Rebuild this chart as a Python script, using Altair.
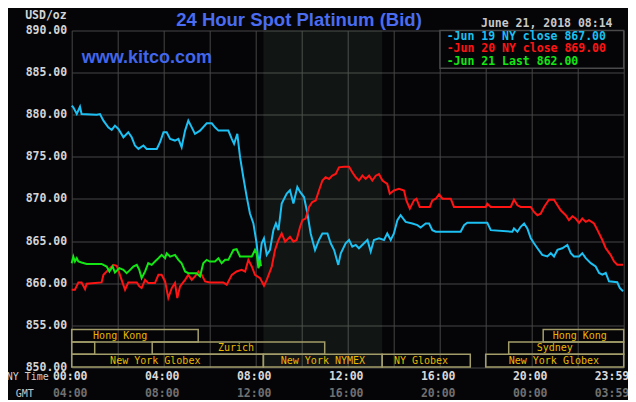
import altair as alt
import pandas as pd

# ---------------- data ----------------
jun19_hours = [0.00, 0.07, 0.22, 0.36, 0.43, 1.09, 1.23, 1.38, 1.59, 1.74, 1.88, 2.03, 2.25, 2.46, 2.61,
               2.75, 2.90, 3.12, 3.26, 3.70, 3.84, 3.99, 4.13, 4.28, 4.49, 4.64, 4.78, 4.93, 5.07, 5.22,
               5.36, 5.58, 5.87, 6.09, 6.23, 6.38, 6.81, 6.96, 7.06, 7.20, 7.32, 7.46, 7.61, 7.75, 7.90,
               8.04, 8.14, 8.26, 8.36, 8.48, 8.62, 8.77, 8.88, 8.99, 9.13, 9.35, 9.49, 9.64, 9.81, 9.93,
               10.10, 10.25, 10.39, 10.58, 10.75, 10.90, 11.12, 11.26, 11.41, 11.59, 11.70, 11.91, 12.06,
               12.20, 12.35, 12.49, 12.71, 12.86, 13.00, 13.14, 13.36, 13.58, 13.72, 13.87, 14.01, 14.16,
               14.30, 14.52, 14.81, 15.03, 15.17, 15.39, 15.54, 15.68, 15.83, 16.91, 17.06, 17.20, 18.07,
               18.22, 19.16, 19.23, 19.38, 19.52, 19.67, 19.81, 19.96, 20.10, 20.25, 20.46, 20.68, 20.83,
               20.97, 21.12, 21.33, 21.55, 21.70, 21.84, 22.06, 22.20, 22.35, 22.57, 22.78, 22.93, 23.07,
               23.22, 23.36, 23.72, 23.83, 23.97]
jun19_values = [881.06, 880.87, 880.08, 880.94, 880.08, 880.00, 880.08, 879.29, 878.50, 878.19, 878.70,
                878.31, 877.32, 877.91, 877.32, 876.34, 875.94, 876.34, 875.94, 875.94, 876.73, 877.91,
                877.91, 877.13, 876.93, 877.13, 876.14, 878.11, 879.29, 878.50, 877.72, 878.11, 878.98,
                878.98, 878.50, 878.11, 878.11, 877.13, 876.54, 877.72, 874.96, 872.60, 870.24, 868.27,
                867.09, 864.72, 861.97, 864.72, 865.31, 863.35, 863.94, 866.30, 867.09, 866.30, 869.45,
                870.63, 871.02, 869.45, 871.42, 870.83, 870.22, 868.25, 865.90, 863.92, 865.12, 865.90,
                865.90, 864.73, 863.92, 862.16, 863.55, 864.73, 865.12, 864.33, 864.53, 864.14, 864.73,
                865.12, 863.75, 865.12, 865.31, 865.12, 865.90, 865.12, 865.90, 867.47, 868.06, 867.27,
                867.08, 866.88, 866.61, 867.08, 867.08, 866.29, 866.10, 866.10, 866.88, 867.16, 867.16,
                866.29, 866.10, 866.49, 866.10, 866.69, 867.08, 866.49, 865.31, 864.73, 864.14, 863.35,
                863.16, 863.55, 863.16, 863.94, 864.14, 864.53, 863.55, 863.16, 863.16, 863.55, 862.96,
                862.37, 861.98, 861.20, 861.00, 861.20, 860.22, 860.10, 859.43, 859.04]

jun20_hours = [0.00, 0.14, 0.29, 0.43, 0.58, 0.65, 1.30, 1.38, 1.59, 1.81, 1.96, 2.07, 2.17, 2.32, 2.46,
               2.61, 2.83, 2.94, 3.04, 3.19, 3.33, 3.62, 3.77, 3.91, 4.06, 4.20, 4.35, 4.49, 4.59, 4.71,
               4.93, 5.07, 5.22, 5.36, 5.51, 5.65, 5.80, 6.01, 6.59, 6.74, 6.96, 7.17, 7.39, 7.54, 7.68,
               7.83, 7.97, 8.19, 8.36, 8.48, 8.70, 8.84, 8.99, 9.13, 9.28, 9.49, 9.64, 9.78, 9.93, 10.03,
               10.17, 10.32, 10.46, 10.61, 10.75, 10.90, 11.04, 11.19, 11.33, 11.48, 11.62, 11.84, 12.06,
               12.20, 12.35, 12.49, 12.64, 12.78, 12.93, 13.07, 13.22, 13.36, 13.51, 13.72, 13.83, 14.01,
               14.23, 14.45, 14.55, 14.70, 14.88, 14.99, 15.13, 15.57, 15.68, 15.83, 15.97, 16.12, 16.48,
               16.62, 18.00, 18.07, 18.22, 19.09, 19.23, 19.38, 19.52, 19.96, 20.10, 20.25, 20.39, 20.54,
               20.75, 20.97, 21.12, 21.26, 21.48, 21.62, 21.77, 21.91, 22.06, 22.20, 22.35, 22.49, 22.71,
               22.86, 23.07, 23.22, 23.43, 23.58, 23.72, 23.97]
jun20_values = [859.21, 859.21, 860.08, 860.08, 859.29, 859.92, 860.08, 860.98, 861.57, 862.17, 862.05,
                861.18, 860.39, 859.21, 860.08, 860.08, 860.08, 859.61, 859.41, 860.39, 860.00, 860.00,
                860.98, 860.98, 860.20, 858.23, 859.41, 860.00, 858.23, 859.61, 860.39, 860.98, 860.39,
                860.79, 861.38, 860.98, 860.20, 860.08, 860.08, 859.80, 860.98, 861.38, 861.57, 861.38,
                862.76, 861.97, 860.98, 860.59, 859.69, 860.39, 861.97, 863.94, 865.12, 865.91, 864.92,
                865.51, 864.92, 865.12, 866.69, 867.47, 867.67, 869.04, 869.63, 869.82, 871.00, 872.18,
                872.57, 872.37, 872.76, 872.96, 873.75, 873.82, 873.82, 873.16, 872.57, 872.18, 872.76,
                872.37, 872.76, 872.18, 872.76, 872.96, 872.18, 871.78, 870.61, 871.00, 871.20, 871.00,
                869.82, 868.84, 869.82, 870.02, 869.04, 869.04, 869.82, 870.02, 870.53, 870.02, 870.02,
                869.04, 869.04, 869.43, 869.04, 869.04, 869.90, 869.24, 869.04, 869.04, 868.45, 868.06,
                868.25, 869.04, 869.90, 869.90, 869.24, 868.65, 868.06, 867.47, 867.94, 867.67, 867.16,
                867.67, 867.27, 867.47, 867.08, 866.29, 865.12, 864.14, 863.35, 862.57, 862.18, 862.18]

jun21_hours = [0.00, 0.07, 0.14, 0.22, 0.29, 0.43, 0.65, 1.30, 1.52, 1.64, 1.78, 1.88, 2.07, 2.25, 2.39,
               2.54, 2.68, 2.83, 2.94, 3.04, 3.19, 3.33, 3.48, 3.62, 3.77, 3.91, 4.06, 4.13, 4.28, 4.49,
               4.64, 4.78, 4.93, 5.07, 5.43, 5.58, 5.72, 5.87, 6.01, 6.23, 6.38, 6.52, 6.67, 6.81, 7.03,
               7.17, 7.32, 7.83, 7.97, 8.04, 8.12, 8.19, 8.23]
jun21_values = [862.36, 863.15, 862.56, 862.95, 862.56, 862.44, 862.28, 862.28, 861.97, 861.38, 861.97,
                861.26, 861.77, 861.57, 861.18, 861.57, 861.97, 862.17, 861.57, 860.59, 861.38, 862.36,
                862.17, 862.56, 862.95, 863.35, 862.95, 863.54, 863.15, 863.35, 862.76, 862.36, 861.38,
                861.18, 861.18, 860.79, 862.36, 862.76, 862.56, 862.56, 862.95, 862.36, 862.76, 862.76,
                863.94, 864.02, 863.15, 863.15, 863.94, 863.54, 861.77, 862.76, 862.00]

series_names = ["Jun 19", "Jun 20", "Jun 21"]
series_colors = ["#1cc0f2", "#ff1414", "#14e614"]
legend_texts = ["-Jun 19 NY close 867.00", "-Jun 20 NY close 869.00", "-Jun 21 Last 862.00"]

# market sessions (hours NY time)
session_names = ["Hong Kong", "Hong Kong", "", "Zurich", "Sydney",
                 "New York Globex", "New York NYMEX", "NY Globex", "New York Globex"]
session_start = [0.0, 20.5, 0.0, 3.5, 19.0, 0.0, 8.333, 13.5, 18.0]
session_end = [5.5, 24.0, 1.0, 11.0, 24.0, 8.333, 13.5, 17.33, 24.0]
session_row = [1, 1, 2, 2, 2, 3, 3, 3, 3]
session_label_at = [0.93, 20.91, 0.5, 6.36, 20.22, 1.67, 9.09, 14.01, 19.0]
row_top = {1: 854.5, 2: 853.0, 3: 851.55}
row_bottom = {1: 853.0, 2: 851.55, 3: 850.05}

ny_time_labels = ["00:00", "04:00", "08:00", "12:00", "16:00", "20:00"]
gmt_labels = ["04:00", "08:00", "12:00", "16:00", "20:00", "00:00"]
label_hours = [0, 4, 8, 12, 16, 20]
last_ny_label, last_gmt_label = "23:59", "03:59"

y_ticks = [850, 855, 860, 865, 870, 875, 880, 885, 890]
x_grid = list(range(0, 25, 2))

# ---------------- layout ----------------
W, H = 552, 336.8
BG = "#050508"
GRID = "#464646"
MONO = "DejaVu Sans Mono"
SANS = "Liberation Sans"
ROW1, ROW2 = 346.6, 363.3

xs = alt.Scale(domain=[0, 24], nice=False, zero=False)
ys = alt.Scale(domain=[850, 890], nice=False, zero=False)

frames = []
for n, h, v in zip(series_names, [jun19_hours, jun20_hours, jun21_hours],
                   [jun19_values, jun20_values, jun21_values]):
    frames.append(pd.DataFrame({"hour": h, "value": v, "series": n}))
lines_df = pd.concat(frames, ignore_index=True)

sess_df = pd.DataFrame({
    "name": session_names, "start": session_start, "end": session_end,
    "top": [row_top[r] for r in session_row], "bottom": [row_bottom[r] for r in session_row],
    "mid": [(row_top[r] + row_bottom[r]) / 2 for r in session_row],
    "lx": session_label_at,
})

# shaded NYMEX session
shade = alt.Chart(pd.DataFrame({"a": [8.333], "b": [13.5], "lo": [850], "hi": [890]})).mark_rect(
    fill="#b4e6a0", opacity=0.075
).encode(
    x=alt.X("a:Q", scale=xs, axis=alt.Axis(values=x_grid, labels=False, ticks=False, domain=False,
                                            title=None, grid=True, gridColor=GRID, gridWidth=1)),
    x2="b:Q",
    y=alt.Y("lo:Q", scale=ys, axis=alt.Axis(values=y_ticks, format=".2f", labelFont=MONO,
                                             labelFontSize=11.5, labelFontWeight="bold",
                                             labelColor="#d4d4d4", ticks=False, domain=False,
                                             gridColor=GRID, gridWidth=1, labelPadding=5, title=None,
                                             labelOverlap=False, labelFlush=False)),
    y2="hi:Q",
)

boxes = alt.Chart(sess_df).mark_rect(fillOpacity=0, stroke="#a39d6a", strokeWidth=1.5).encode(
    x=alt.X("start:Q", scale=xs), x2="end:Q",
    y=alt.Y("top:Q", scale=ys), y2="bottom:Q",
)
box_text = alt.Chart(sess_df).mark_text(
    align="left", baseline="middle", font=MONO, fontSize=10, color="#e8b800"
).encode(x=alt.X("lx:Q", scale=xs), y=alt.Y("mid:Q", scale=ys), text="name:N")

line_layers = []
for n, c in zip(series_names, series_colors):
    line_layers.append(
        alt.Chart(lines_df).transform_filter(alt.datum.series == n).mark_line(
            color=c, strokeWidth=2, interpolate="linear"
        ).encode(x=alt.X("hour:Q", scale=xs), y=alt.Y("value:Q", scale=ys))
    )

legend_box = alt.Chart(pd.DataFrame({"k": [0]})).mark_rect(
    fill=BG, stroke="#4a4a4a", strokeWidth=1.5
).encode(x=alt.value(368.3), x2=alt.value(W), y=alt.value(0), y2=alt.value(37.8))


def txt(s, x, y, color, size, font=MONO, weight="bold", align="left", baseline="middle"):
    return alt.Chart(pd.DataFrame({"t": [s]})).mark_text(
        align=align, baseline=baseline, font=font, fontSize=size, fontWeight=weight, color=color
    ).encode(text="t:N", x=alt.value(x), y=alt.value(y))


texts = []
for i, (s, c) in enumerate(zip(legend_texts, series_colors)):
    texts.append(txt(s, 375, 6.4 + 12.5 * i, c, 11.5))
texts.append(txt("24 Hour Spot Platinum (Bid)", 227.3, -4.5, "#4a6cf0", 18.5, font=SANS,
                 align="center", baseline="alphabetic"))
texts.append(txt("www.kitco.com", 10, 32.8, "#4266ea", 18, font=SANS, baseline="alphabetic"))
texts.append(txt("June 21, 2018 08:14", 409.3, -6.5, "#c8c8c8", 11.5))
texts.append(txt("USD/oz", -5, -14.5, "#d4d4d4", 11.5, align="right"))
texts.append(txt("NY Time", -65, ROW1, "#d0d0d0", 10, weight="normal"))
texts.append(txt("GMT", -56, ROW2, "#c8c8c8", 10, weight="normal"))
texts.append(txt(last_ny_label, W + 5.6, ROW1, "#d8d8d8", 11.5, align="right"))
texts.append(txt(last_gmt_label, W + 5.6, ROW2, "#707070", 11.5, align="right"))

tick_df = pd.DataFrame({"h": label_hours, "ny": ny_time_labels, "gmt": gmt_labels})
ny_text = alt.Chart(tick_df).mark_text(
    align="center", baseline="middle", font=MONO, fontSize=11.5, fontWeight="bold", color="#d8d8d8",
    dx=-1.5
).encode(x=alt.X("h:Q", scale=xs), y=alt.value(ROW1), text="ny:N")
gmt_text = alt.Chart(tick_df).mark_text(
    align="center", baseline="middle", font=MONO, fontSize=11.5, fontWeight="bold", color="#707070",
    dx=-1.5
).encode(x=alt.X("h:Q", scale=xs), y=alt.value(ROW2), text="gmt:N")

chart = alt.layer(
    shade, boxes, box_text, *line_layers, legend_box, ny_text, gmt_text, *texts
).properties(
    width=W, height=H, background=BG,
    autosize=alt.AutoSizeParams(type="none"),
    padding={"left": 63.7, "top": 22.5, "right": 4.3, "bottom": 32.7},
).configure_view(stroke=None)

chart.save("out.html", embed_options={"renderer": "svg", "actions": False})
